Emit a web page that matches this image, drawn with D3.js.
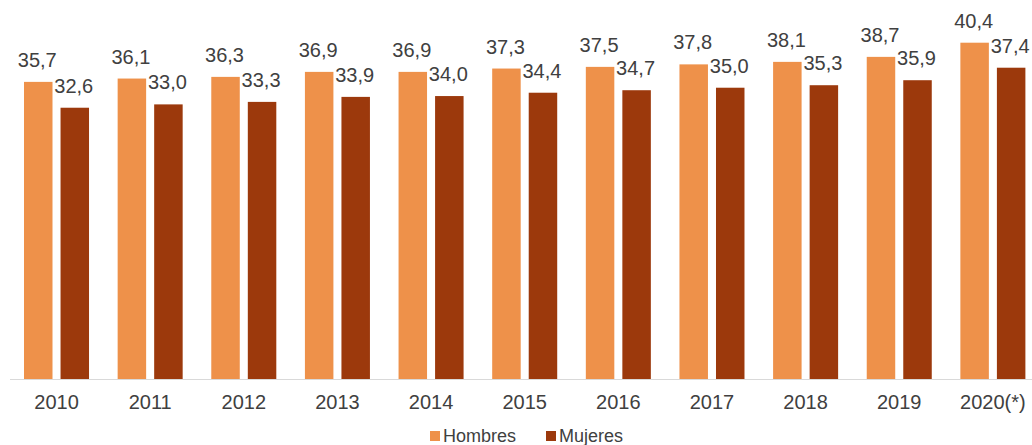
<!DOCTYPE html>
<html><head><meta charset="utf-8">
<script src="https://cdn.jsdelivr.net/npm/d3@7"></script>
<style>
html,body{margin:0;padding:0;background:#fff;overflow:hidden;}
svg{display:block;font-family:"Liberation Sans",Arial,sans-serif;}
</style></head>
<body>
<svg id="c" width="1032" height="445"></svg>
<script>
const categories = ["2010","2011","2012","2013","2014","2015","2016","2017","2018","2019","2020(*)"];
const hombres = [35.7,36.1,36.3,36.9,36.9,37.3,37.5,37.8,38.1,38.7,40.4];
const mujeres = [32.6,33.0,33.3,33.9,34.0,34.4,34.7,35.0,35.3,35.9,37.4];
const seriesNames = ["Hombres","Mujeres"];
const colors = ["#EE914A","#9C390C"];

const svg = d3.select("#c");
const x0 = d3.scaleBand().domain(categories).range([9.7, 1039.7]).paddingInner(0.3056).paddingOuter(0.1528);
const x1 = d3.scaleBand().domain(seriesNames).range([0, x0.bandwidth()]).paddingInner(0.22);
const y = d3.scaleLinear().domain([0, 40.4]).range([379.5, 42.7]);

const fmt = v => d3.format(".1f")(v).replace(".", ",");
const data = categories.map((c,i)=>({cat:c, vals:[hombres[i], mujeres[i]]}));

const g = svg.selectAll("g.grp").data(data).join("g").attr("class","grp")
  .attr("transform", d=>`translate(${x0(d.cat)},0)`);

g.selectAll("rect").data(d=>d.vals.map((v,j)=>({v, s:seriesNames[j], j})))
  .join("rect")
  .attr("x", d=>x1(d.s)).attr("width", x1.bandwidth())
  .attr("y", d=>y(d.v)).attr("height", d=>y(0)-y(d.v))
  .attr("fill", d=>colors[d.j]);

g.selectAll("text.lbl").data(d=>d.vals.map((v,j)=>({v, s:seriesNames[j], j})))
  .join("text").attr("class","lbl")
  .attr("x", d=>x1(d.s)+x1.bandwidth()/2 - 1)
  .attr("y", d=>y(d.v)-15)
  .attr("text-anchor","middle")
  .attr("font-size","20px").attr("fill","#404040")
  .text(d=>fmt(d.v));

// axis
const ax = svg.append("g").attr("transform","translate(0,379.5)")
  .call(d3.axisBottom(x0).tickSize(0).tickPadding(15));
ax.select(".domain").attr("stroke","#d9d9d9").attr("d","M10,0H1032");
ax.selectAll("text").attr("font-size","20px").attr("fill","#404040")
  .attr("font-family","Liberation Sans, Arial, sans-serif");

// legend
const leg = svg.append("g");
const legItems = [{n:"Hombres",x:430},{n:"Mujeres",x:546}];
legItems.forEach((it,i)=>{
  leg.append("rect").attr("x",it.x).attr("y",431).attr("width",10).attr("height",10).attr("fill",colors[i]);
  leg.append("text").attr("x",it.x+13).attr("y",442).attr("font-size","18px").attr("fill","#404040").text(seriesNames[i]);
});
</script>
</body></html>
